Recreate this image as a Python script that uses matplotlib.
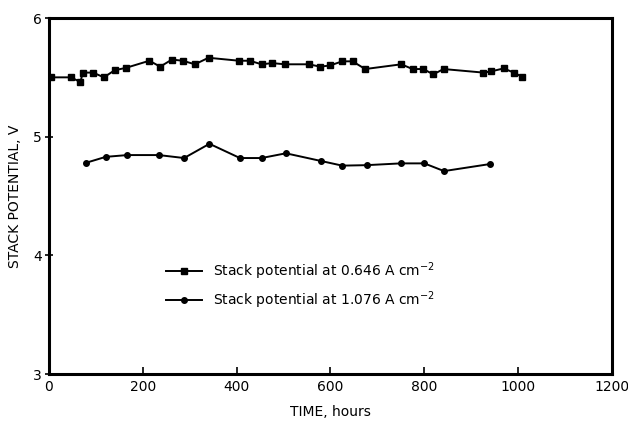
import numpy as np
import matplotlib
matplotlib.use("Agg")
import matplotlib.pyplot as plt

# stack potential vs time
t_low = [5, 47, 67, 72, 94, 117, 140, 164, 214, 237, 262, 285, 311, 340,
         405, 428, 453, 476, 503, 554, 578, 599, 625, 647, 674, 751, 775,
         798, 819, 841, 926, 942, 969, 991, 1008]
v_low = [5.50, 5.50, 5.46, 5.54, 5.54, 5.50, 5.56, 5.58, 5.64, 5.59, 5.65,
         5.64, 5.61, 5.665, 5.64, 5.64, 5.61, 5.62, 5.61, 5.61, 5.59, 5.60,
         5.635, 5.635, 5.57, 5.61, 5.57, 5.57, 5.525, 5.57, 5.54, 5.55,
         5.575, 5.54, 5.505]

t_high = [79, 121, 167, 234, 288, 342, 407, 453, 505, 580, 625, 677, 750,
          800, 842, 941]
v_high = [4.78, 4.83, 4.845, 4.845, 4.82, 4.94, 4.82, 4.82, 4.86, 4.795,
          4.756, 4.76, 4.775, 4.775, 4.71, 4.77]

xticks = [0, 200, 400, 600, 800, 1000, 1200]
yticks = [3, 4, 5, 6]

fig = plt.figure(figsize=(6.28, 4.25), dpi=100)
ax = fig.add_axes([0.078, 0.12, 0.8965, 0.8376])

ax.plot(t_low, v_low, color="black", lw=1.4, marker="s", ms=4,
        label="Stack potential at 0.646 A cm$^{-2}$")
ax.plot(t_high, v_high, color="black", lw=1.4, marker="o", ms=4,
        label="Stack potential at 1.076 A cm$^{-2}$")

ax.set_xlim(0, 1200)
ax.set_ylim(3, 6)
ax.set_xticks(xticks)
ax.set_yticks(yticks)
ax.tick_params(axis="x", direction="in", length=5, width=1.2, labelsize=10, pad=4)
ax.tick_params(axis="y", direction="inout", length=6, width=1.2, labelsize=10, pad=2)
for s in ax.spines.values():
    s.set_linewidth(2.2)

ax.set_xlabel("TIME, hours", fontsize=10, labelpad=8)
ax.set_ylabel("STACK POTENTIAL, V", fontsize=10, labelpad=8)

ax.legend(loc="upper left", bbox_to_anchor=(0.185, 0.355), frameon=False,
          fontsize=10, handlelength=2.6, labelspacing=0.55)

fig.savefig("out.png", dpi=100)
